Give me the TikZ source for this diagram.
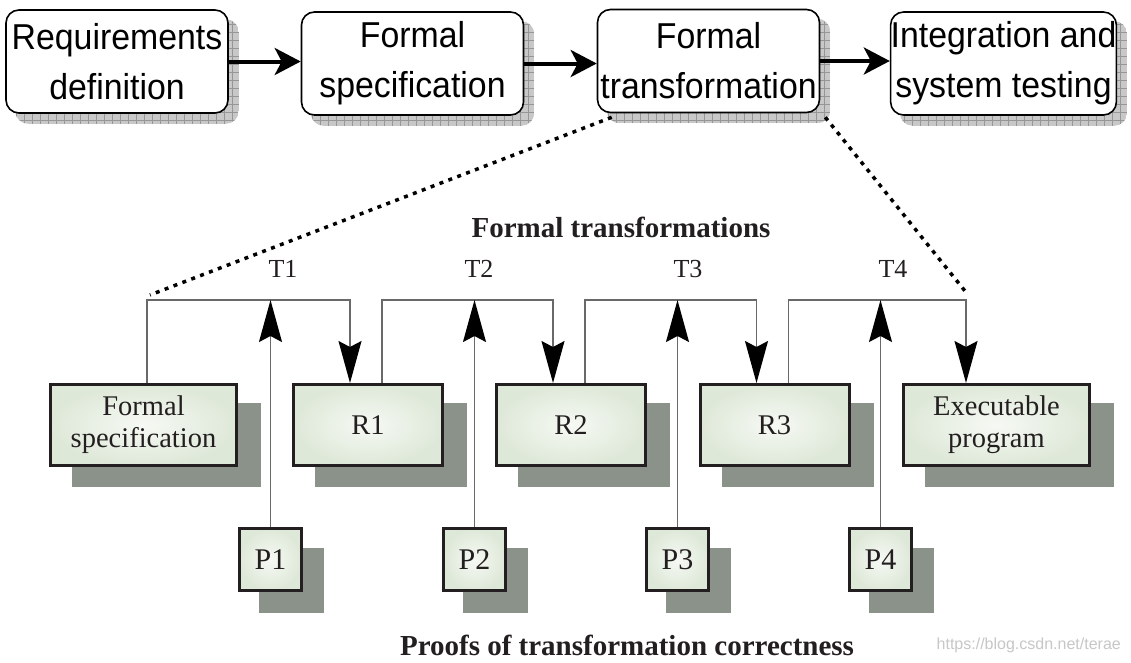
\documentclass[tikz,border=0pt]{standalone}
\usepackage{fontspec}
\setmainfont{Liberation Serif}
\newfontfamily\topfont[FakeStretch=0.94]{Liberation Sans}
\newfontfamily\wmfont{Liberation Sans}
\usetikzlibrary{arrows.meta,backgrounds}
\definecolor{bordc}{RGB}{35,31,32}
\definecolor{shadowc}{RGB}{138,146,137}
\definecolor{fillout}{RGB}{222,232,216}
\definecolor{fillin}{RGB}{246,249,244}
\definecolor{connc}{RGB}{105,105,105}
\definecolor{gridbg}{RGB}{200,200,200}
\definecolor{gridln}{RGB}{150,150,150}
\begin{document}
\begin{tikzpicture}[x=1pt,y=-1pt,
 topbox/.style={draw=black, line width=1.6pt, rounded corners=13pt, fill=white, minimum width=222pt, minimum height=103pt, inner sep=0pt, align=center, font=\topfont\fontsize{36}{50}\selectfont},
 lbox/.style={draw=bordc, line width=3pt, inner color=fillin, outer color=fillout, minimum height=81pt, inner sep=0pt, align=center, font=\fontsize{28.5}{32}\selectfont, text=bordc},
 pbox/.style={lbox, minimum width=62pt, minimum height=62pt, font=\fontsize{30}{32}\selectfont},
 bigarrow/.style={line width=4pt, -{Stealth[length=26pt,width=27pt,inset=7pt]}},
 conn/.style={draw=connc, line width=1.5pt},
 tip/.style={-{Stealth[length=42pt,width=23pt,inset=6pt,color=black]}},
 tlabel/.style={anchor=base, font=\fontsize{26}{30}\selectfont, text=bordc, inner sep=0pt},
 title/.style={anchor=base, font=\bfseries\fontsize{29}{32}\selectfont, text=bordc, inner sep=0pt},
 dotline/.style={line width=3.5pt, dash pattern=on 4pt off 5.5pt},
]
\useasboundingbox (0,0) rectangle (1131,662);

% top row
\node[topbox] (b1) at (117,61.5) {Requirements\\definition};
\node[topbox] (b2) at (412.5,63.5) {Formal\\specification};
\node[topbox] (b3) at (708.5,61) {Formal\\transformation};
\node[topbox] (b4) at (1003.5,63.5) {Integration and\\system testing};

\draw[bigarrow] (b1.east) -- (b1.east -| b2.west);
\draw[bigarrow] (b2.east) -- (b2.east -| b3.west);
\draw[bigarrow] (b3.east) -- (b3.east -| b4.west);

% lower boxes
\node[lbox, minimum width=186pt] (fs) at (143.5,425) {Formal\\specification};
\node[lbox, minimum width=149pt] (r1) at (368,425) {R1};
\node[lbox, minimum width=149pt] (r2) at (571,425) {R2};
\node[lbox, minimum width=149pt] (r3) at (774.5,425) {R3};
\node[lbox, minimum width=186pt] (ep) at (996.5,425) {Executable\\program};

\node[pbox] (p1) at (270.5,559.5) {P1};
\node[pbox] (p2) at (474.5,559.5) {P2};
\node[pbox] (p3) at (677.5,559.5) {P3};
\node[pbox] (p4) at (880.5,559.5) {P4};

% titles and labels
\node[title] (ttl1) at (621,237) {Formal transformations};
\node[title] (ttl2) at (627,655) {Proofs of transformation correctness};
\node[tlabel] (t1) at (283,277) {T1};
\node[tlabel] (t2) at (479,277) {T2};
\node[tlabel] (t3) at (688,277) {T3};
\node[tlabel] (t4) at (893,277) {T4};

% connectors
\coordinate (bar) at (0,300);
\draw[conn,tip] ([xshift=3.5pt]fs.north) -- ([xshift=3.5pt]fs.north |- bar) -| ([xshift=-18pt]r1.north);
\draw[conn,tip] ([xshift=14pt]r1.north) -- ([xshift=14pt]r1.north |- bar) -| ([xshift=-18pt]r2.north);
\draw[conn,tip] ([xshift=14pt]r2.north) -- ([xshift=14pt]r2.north |- bar) -| ([xshift=-18pt]r3.north);
\draw[conn,tip] ([xshift=14pt]r3.north) -- ([xshift=14pt]r3.north |- bar) -| ([xshift=-30.5pt]ep.north);
\draw[conn,tip] (p1.north) -- (p1.north |- bar);
\draw[conn,tip] (p2.north) -- (p2.north |- bar);
\draw[conn,tip] (p3.north) -- (p3.north |- bar);
\draw[conn,tip] (p4.north) -- (p4.north |- bar);

% dotted zoom lines
\coordinate (dl) at (150,295);
\coordinate (dr) at (965,291);
\draw[dotline] ([shift={(15pt,-4pt)}]b3.south west) -- (dl);
\draw[dotline] ([shift={(5pt,-4pt)}]b3.south east) -- (dr);

% watermark
\node[anchor=base east, font=\wmfont\fontsize{16}{18}\selectfont, text=black!22, inner sep=0pt] (wm) at (1121,649) {https://blog.csdn.net/terae};

% background and shadows
\begin{scope}[on background layer]
\fill[white] (0,0) rectangle (1131,662);
\foreach \n in {b1,b2,b3,b4}{
  \begin{scope}
  \clip[rounded corners=13pt] ([shift={(10pt,-10pt)}]\n.south west) rectangle ([shift={(10pt,-10pt)}]\n.north east);
  \fill[gridbg] ([shift={(10pt,-10pt)}]\n.south west) rectangle ([shift={(10pt,-10pt)}]\n.north east);
  \draw[gridln, line width=0.6pt, step=8pt] ([shift={(10pt,-10pt)}]\n.south west) grid ([shift={(10pt,-10pt)}]\n.north east);
  \end{scope}
}
\foreach \n in {fs,r1,r2,r3,ep}{
  \fill[shadowc] ([shift={(23pt,-20pt)}]\n.south west) rectangle ([shift={(23pt,-20pt)}]\n.north east);
}
\foreach \n in {p1,p2,p3,p4}{
  \fill[shadowc] ([shift={(21pt,-21pt)}]\n.south west) rectangle ([shift={(21pt,-21pt)}]\n.north east);
}
\end{scope}
\end{tikzpicture}
\end{document}
